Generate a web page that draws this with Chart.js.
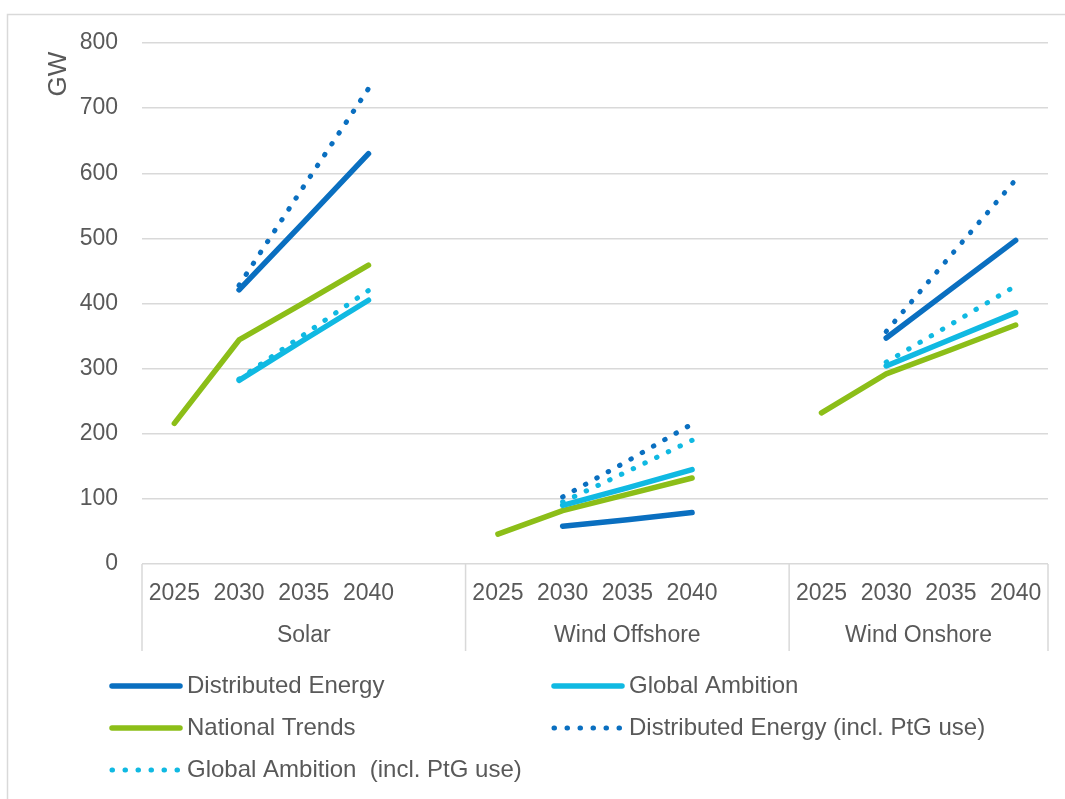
<!DOCTYPE html>
<html lang="en">
  <head>
    <meta charset="UTF-8" />
    <title>Installed capacity</title>
    <script src="https://cdn.jsdelivr.net/npm/chart.js"></script>
    <style>
      body { margin: 0; background: #fff; }
      #wrap { width: 1065px; height: 799px; }
    </style>
  </head>
  <body>
    <div id="wrap"><canvas id="lineChart"></canvas></div>
    <script>
      // categories: 3 technologies x 4 years, one empty slot between groups
      const years = ["2025", "2030", "2035", "2040"];
      const groups = ["Solar", "Wind Offshore", "Wind Onshore"];
      const labels = ["2025", "2030", "2035", "2040", "", "2025", "2030", "2035", "2040", "", "2025", "2030", "2035", "2040"];

      // values in GW (null = no value / spacer slot)
      const distributedEnergy = [null, 421, 525, 630, null, null, 58, 68, 79, null, null, 347, 422, 497];
      const globalAmbition = [null, 282, 344, 405, null, null, 90, 117, 145, null, null, 304, 345, 386];
      const nationalTrends = [216, 344, 401, 459, null, 46, 82, 107, 132, null, 232, 292, 329, 367];
      const distributedEnergyPtG = [null, 428, 580, 730, null, null, 103, 158, 215, null, null, 357, 474, 590];
      const globalAmbitionPtG = [null, 284, 352, 420, null, null, 95, 142, 190, null, null, 310, 368, 427];

      const yTicks = [0, 100, 200, 300, 400, 500, 600, 700, 800];

      const DARK_BLUE = "#0a6fc0";
      const CYAN = "#10b9e2";
      const GREEN = "#8cbe18";
      const TEXT = "#595959";
      const GRID = "#d9d9d9";
      const FONT = "'Liberation Sans', Arial, sans-serif";

      const solid = (label, data, color) => ({
        label, data, borderColor: color, backgroundColor: color,
        borderWidth: 5.5, borderCapStyle: "round", borderJoinStyle: "round",
        pointRadius: 0, tension: 0, spanGaps: false,
      });
      const dotted = (label, data, color) => ({
        label, data, borderColor: color, backgroundColor: color,
        borderWidth: 5, borderCapStyle: "round", borderDash: [0.5, 12.5],
        pointRadius: 0, tension: 0, spanGaps: false,
      });

      // group labels, separators, outer frame, axis title and legend
      const decor = {
        id: "decor",
        beforeDraw(chart) {
          const c = chart.ctx;
          c.save();
          c.strokeStyle = GRID;
          c.lineWidth = 1.5;
          c.beginPath();
          c.moveTo(7.5, 799);
          c.lineTo(7.5, 14.5);
          c.lineTo(1065, 14.5);
          c.stroke();
          c.restore();
        },
        afterDraw(chart) {
          const c = chart.ctx;
          const x = chart.scales.x;
          const area = chart.chartArea;
          const slot = x.getPixelForValue(1) - x.getPixelForValue(0);
          // edges of each group: left edge, end of each spacer slot, right edge
          const edges = [area.left];
          labels.forEach((l, i) => {
            if (l === "") edges.push(x.getPixelForValue(i) + slot / 2);
          });
          edges.push(area.right);

          c.save();
          c.strokeStyle = GRID;
          c.lineWidth = 1.5;
          edges.forEach((ex) => {
            c.beginPath();
            c.moveTo(ex, area.bottom);
            c.lineTo(ex, 651);
            c.stroke();
          });

          c.fillStyle = TEXT;
          c.font = "23px " + FONT;
          c.textAlign = "center";
          c.textBaseline = "middle";
          groups.forEach((g, i) => c.fillText(g, (edges[i] + edges[i + 1]) / 2, 636));

          // y axis title
          c.save();
          c.font = "26px " + FONT;
          c.translate(59, 74);
          c.rotate(-Math.PI / 2);
          c.fillText("GW", 0, 0);
          c.restore();

          // legend, two columns
          const slots = [[110, 686], [552, 686], [110, 728], [552, 728], [110, 770]];
          c.font = "24px " + FONT;
          chart.data.datasets.forEach((ds, i) => {
            const [lx, ly] = slots[i];
            c.save();
            c.strokeStyle = ds.borderColor;
            c.lineWidth = ds.borderWidth;
            c.lineCap = "round";
            c.setLineDash(ds.borderDash || []);
            c.beginPath();
            c.moveTo(lx + 2, ly);
            c.lineTo(lx + 70, ly);
            c.stroke();
            c.restore();
            c.textAlign = "left";
            c.fillText(ds.label, lx + 77, ly);
          });
          c.restore();
        },
      };

      const ctx = document.getElementById("lineChart").getContext("2d");
      new Chart(ctx, {
        type: "line",
        data: {
          labels: labels,
          datasets: [
            solid("Distributed Energy", distributedEnergy, DARK_BLUE),
            solid("Global Ambition", globalAmbition, CYAN),
            solid("National Trends", nationalTrends, GREEN),
            dotted("Distributed Energy (incl. PtG use)", distributedEnergyPtG, DARK_BLUE),
            dotted("Global Ambition  (incl. PtG use)", globalAmbitionPtG, CYAN),
          ],
        },
        options: {
          responsive: true,
          maintainAspectRatio: false,
          animation: false,
          layout: { padding: { top: 43, right: 17, left: 0, bottom: 0 } },
          plugins: { legend: { display: false }, tooltip: { enabled: false } },
          scales: {
            x: {
              type: "category",
              offset: true,
              grid: { display: false, drawTicks: false },
              border: { display: false },
              ticks: {
                autoSkip: false, maxRotation: 0, padding: 16,
                color: TEXT, font: { family: FONT, size: 23 },
              },
              afterFit: (s) => { s.height = 235; },
            },
            y: {
              min: 0, max: 800,
              afterBuildTicks: (s) => { s.ticks = yTicks.map((v) => ({ value: v })); },
              grid: { color: GRID, lineWidth: 1.5, drawTicks: false },
              border: { display: false },
              ticks: { padding: 24, color: TEXT, font: { family: FONT, size: 23 } },
              afterFit: (s) => { s.width = 142; },
            },
          },
        },
        plugins: [decor],
      });
    </script>
  </body>
</html>
